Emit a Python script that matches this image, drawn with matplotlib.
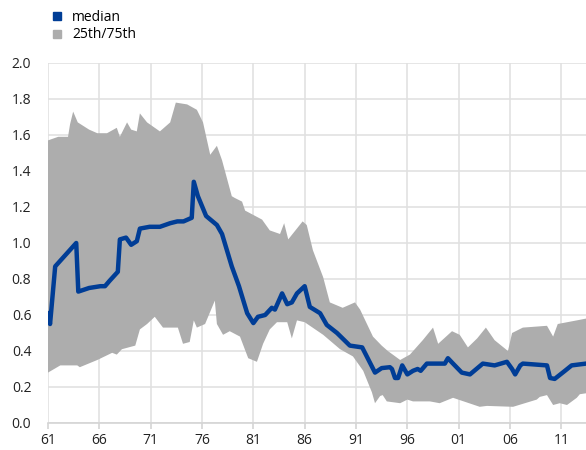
import matplotlib
matplotlib.use("Agg")
import matplotlib.pyplot as plt
from matplotlib.lines import Line2D

# median series (decimal year, value)
med_year = [1961.0, 1961.2, 1961.7, 1963.75, 1963.95, 1965.0, 1966.1, 1966.55, 1967.0,
            1967.8, 1968.0, 1968.6, 1969.1, 1969.65, 1969.95, 1970.9, 1971.9, 1972.9,
            1973.6, 1974.2, 1975.0, 1975.2, 1975.6, 1976.4, 1977.45, 1977.95, 1978.9,
            1979.6, 1980.4, 1981.0, 1981.45, 1982.15, 1982.8, 1983.1, 1983.8, 1984.3,
            1984.75, 1985.25, 1986.0, 1986.5, 1987.5, 1988.15, 1989.15, 1990.4, 1991.6,
            1992.85, 1993.5, 1994.3, 1994.5, 1994.8, 1995.1, 1995.5, 1996.0, 1996.55,
            1997.0, 1997.3, 1997.9, 1999.65, 1999.95, 2000.45, 2001.3, 2002.1, 2003.35,
            2004.5, 2005.7, 2006.2, 2006.5, 2007.0, 2007.25, 2009.6, 2009.9, 2010.35,
            2011.35, 2012.0, 2013.4]
med_val = [0.61, 0.55, 0.87, 1.00, 0.73, 0.75, 0.76, 0.76, 0.79,
           0.84, 1.02, 1.03, 0.99, 1.01, 1.08, 1.09, 1.09, 1.11,
           1.12, 1.12, 1.14, 1.34, 1.26, 1.15, 1.10, 1.05, 0.87,
           0.76, 0.61, 0.555, 0.59, 0.60, 0.64, 0.63, 0.72, 0.66,
           0.67, 0.72, 0.76, 0.645, 0.61, 0.545, 0.50, 0.43, 0.42,
           0.28, 0.305, 0.31, 0.30, 0.25, 0.25, 0.32, 0.27, 0.29,
           0.30, 0.29, 0.33, 0.33, 0.36, 0.33, 0.28, 0.27, 0.33,
           0.32, 0.34, 0.30, 0.27, 0.32, 0.33, 0.32, 0.25, 0.245,
           0.29, 0.32, 0.33]

# 75th percentile
up_year = [1961.0, 1962.0, 1962.95, 1963.15, 1963.45, 1963.9, 1965.0, 1965.8, 1966.75,
           1967.7, 1968.0, 1968.7, 1969.1, 1969.65, 1969.95, 1970.65, 1971.9, 1972.9,
           1973.45, 1974.55, 1975.5, 1976.1, 1976.8, 1977.45, 1977.95, 1978.9, 1979.2,
           1979.9, 1980.2, 1981.85, 1982.6, 1983.6, 1984.0, 1984.4, 1985.8, 1986.2,
           1986.8, 1987.8, 1988.45, 1989.7, 1990.9, 1991.4, 1992.65, 1993.5, 1994.1,
           1995.3, 1996.25, 1997.5, 1998.5, 1999.0, 2000.35, 2001.1, 2001.9, 2002.8,
           2003.65, 2004.5, 2005.8, 2006.2, 2007.25, 2009.6, 2010.2, 2010.65, 2012.5,
           2013.4]
up_val = [1.57, 1.59, 1.59, 1.66, 1.73, 1.67, 1.63, 1.61, 1.61,
          1.64, 1.59, 1.67, 1.63, 1.62, 1.72, 1.67, 1.62, 1.67,
          1.78, 1.77, 1.74, 1.67, 1.49, 1.54, 1.46, 1.26, 1.25,
          1.23, 1.18, 1.13, 1.07, 1.05, 1.11, 1.02, 1.12, 1.10,
          0.96, 0.81, 0.67, 0.64, 0.67, 0.63, 0.48, 0.43, 0.40,
          0.35, 0.38, 0.46, 0.53, 0.44, 0.51, 0.49, 0.42, 0.47,
          0.53, 0.46, 0.40, 0.50, 0.53, 0.54, 0.48, 0.55, 0.57,
          0.58]

# 25th percentile
lo_year = [1961.0, 1962.2, 1963.85, 1964.1, 1965.8, 1967.25, 1967.7, 1968.2, 1969.5,
           1969.95, 1970.65, 1971.4, 1972.2, 1973.65, 1974.15, 1974.8, 1975.2, 1975.5,
           1976.3, 1977.25, 1977.45, 1978.05, 1978.7, 1979.7, 1980.5, 1981.35, 1981.95,
           1982.6, 1983.3, 1984.3, 1984.75, 1985.25, 1986.0, 1987.8, 1989.45, 1990.7,
           1991.7, 1992.55, 1992.85, 1993.35, 1993.6, 1994.0, 1995.3, 1996.0, 1996.55,
           1998.2, 1999.15, 2000.45, 2003.05, 2003.75, 2006.3, 2008.6, 2008.9, 2009.6,
           2010.2, 2010.85, 2011.55, 2012.5, 2012.8, 2013.4]
lo_val = [0.28, 0.32, 0.32, 0.31, 0.35, 0.39, 0.38, 0.41, 0.43,
          0.52, 0.55, 0.59, 0.53, 0.53, 0.44, 0.45, 0.57, 0.53,
          0.55, 0.68, 0.55, 0.49, 0.51, 0.48, 0.36, 0.34, 0.44,
          0.52, 0.56, 0.56, 0.47, 0.57, 0.56, 0.49, 0.41, 0.37,
          0.29, 0.17, 0.11, 0.15, 0.155, 0.12, 0.11, 0.13, 0.12,
          0.12, 0.11, 0.14, 0.09, 0.095, 0.09, 0.13, 0.145, 0.155,
          0.10, 0.11, 0.10, 0.14, 0.16, 0.165]

xticks = [1961, 1966, 1971, 1976, 1981, 1986, 1991, 1996, 2001, 2006, 2011]
yticks = [0.0, 0.2, 0.4, 0.6, 0.8, 1.0, 1.2, 1.4, 1.6, 1.8, 2.0]

blue = '#003d96'
grey = '#adadad'
gridc = '#e1e1e1'

plt.rcParams['font.family'] = ['Open Sans', 'DejaVu Sans']

fig = plt.figure(figsize=(5.86, 4.5), dpi=100)
ax = fig.add_axes([48 / 586, 27 / 450, 1 - 48 / 586, 360 / 450])

band_x = up_year + lo_year[::-1]
band_y = up_val + lo_val[::-1]
ax.fill(band_x, band_y, color=grey, lw=0, zorder=2)
ax.plot(med_year, med_val, color=blue, lw=3.2, solid_joinstyle='round', zorder=3)

ax.set_xlim(1961, 2013.4)
ax.set_ylim(0, 2.0)
ax.set_xticks(xticks)
ax.set_xticklabels(['%02d' % (y % 100) for y in xticks])
ax.set_yticks(yticks)
ax.set_yticklabels(['%.1f' % v for v in yticks])
ax.grid(True, color=gridc, lw=1.2, zorder=0)
ax.set_axisbelow(True)
for s in ['top', 'right', 'left']:
    ax.spines[s].set_visible(False)
ax.spines['bottom'].set_color('#d4d4d4')
ax.spines['bottom'].set_linewidth(1.2)
ax.tick_params(axis='y', length=0, pad=12, labelsize=10, labelcolor='#222222')
ax.tick_params(axis='x', length=4, color='#d4d4d4', width=1.2, pad=3, labelsize=10,
               labelcolor='#222222')

handles = [Line2D([], [], marker='s', ls='none', color=blue, markersize=6),
           Line2D([], [], marker='s', ls='none', color=grey, markersize=6)]
fig.legend(handles, ['median', '25th/75th'], loc='upper left',
           bbox_to_anchor=(40 / 586, 1.0), frameon=False, fontsize=10,
           handletextpad=0.6, labelspacing=0.2, handlelength=1.0, borderpad=0.2)

fig.savefig('out.png', dpi=100)
